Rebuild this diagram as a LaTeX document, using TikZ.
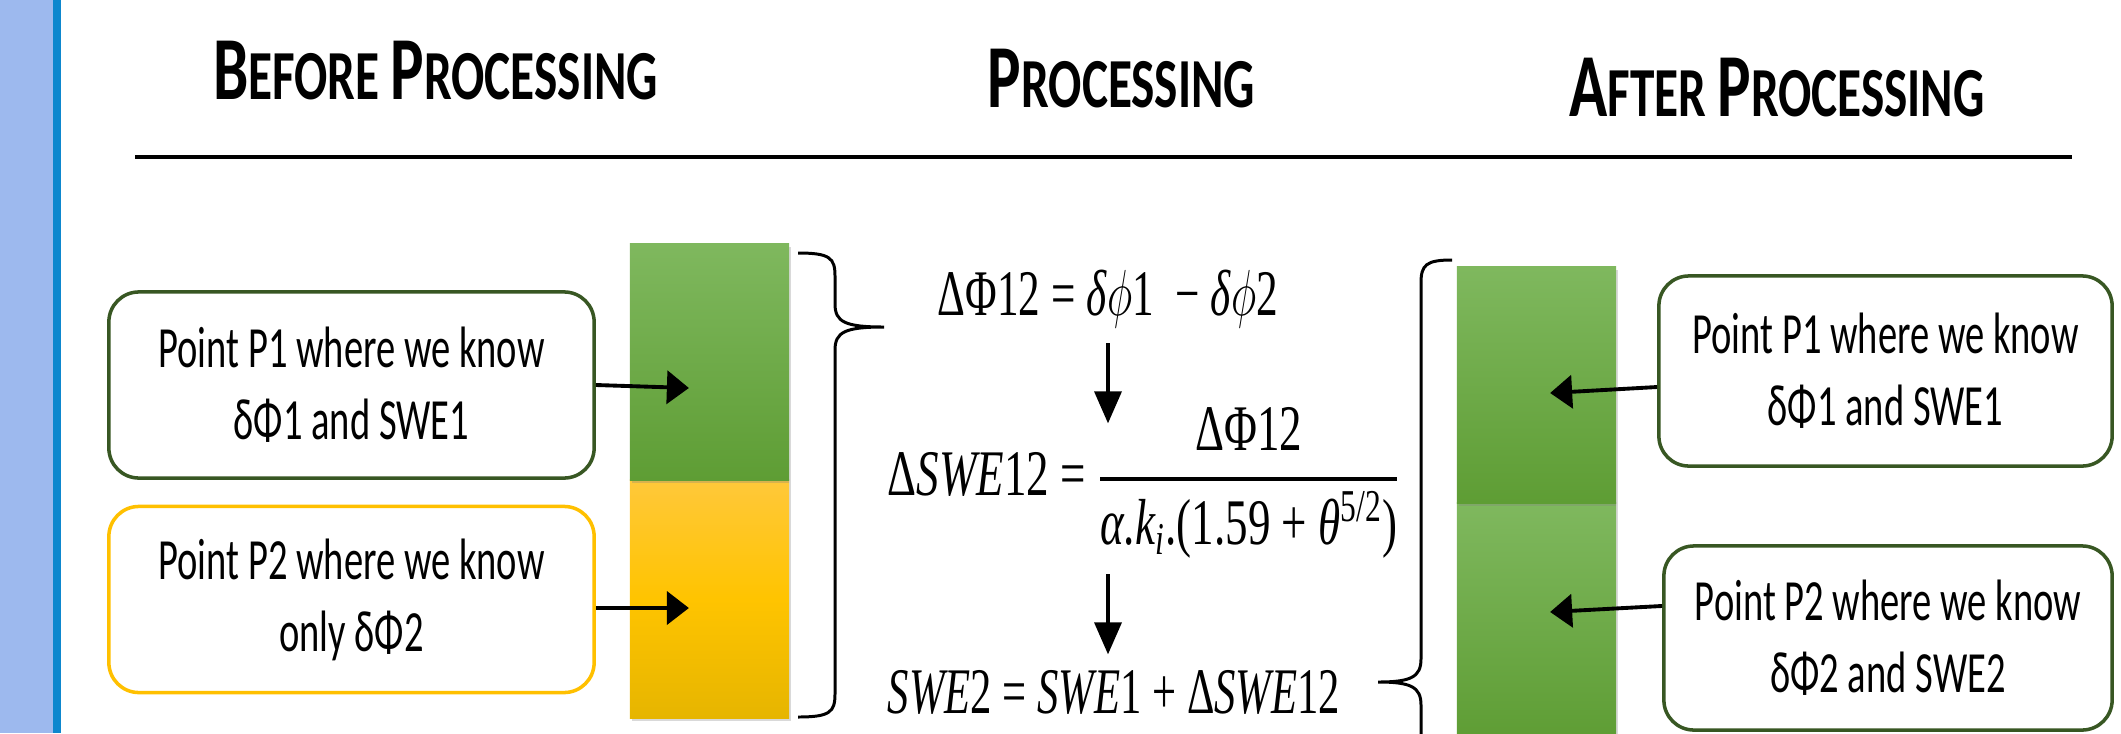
\RequirePackage{fix-cm}
\documentclass[tikz,border=0pt]{standalone}
\usepackage{amsmath}
\usepackage{fontspec}
\newfontfamily\bodyfont[FakeStretch=0.66]{Carlito}
\newfontfamily\headfont[FakeStretch=0.70]{Carlito}
\newfontfamily\eqfont{Liberation Serif}
\usetikzlibrary{arrows.meta, positioning, shadows}
\definecolor{boxgreen}{RGB}{56,87,35}
\definecolor{boxgold}{RGB}{255,192,0}
\definecolor{barlight}{RGB}{127,184,94}
\definecolor{bardark}{RGB}{94,157,52}
\definecolor{goldtop}{RGB}{255,200,58}
\definecolor{goldmid}{RGB}{255,196,0}
\definecolor{goldlow}{RGB}{230,181,0}
\definecolor{bandblue}{RGB}{157,185,238}
\definecolor{stripeblue}{RGB}{13,135,206}
\newcommand{\capword}[2]{{\fontsize{25.6}{30}\selectfont #1}#2}
\newcommand{\fitw}[2]{\resizebox{#1}{\height}{#2}}

\begin{document}
\begin{tikzpicture}[x=0.01cm, y=-0.01cm,
    heading/.style={anchor=base, inner sep=0pt, font=\headfont\bfseries\fontsize{20}{24}\selectfont},
    pointbox/.style={draw, line width=1pt, rounded corners=0.3cm, fill=white, align=center,
      minimum height=1.86cm, font=\bodyfont\fontsize{16.6}{20.5}\selectfont},
    greenbox/.style={pointbox, draw=boxgreen},
    goldbox/.style={pointbox, draw=boxgold},
    bar/.style={minimum width=1.59cm, inner sep=0pt,
      drop shadow={shadow xshift=0.02cm, shadow yshift=-0.03cm, opacity=0.3}},
    greenbar/.style={bar, top color=barlight, bottom color=bardark},
    goldbar/.style={bar, top color=goldtop, bottom color=goldlow, middle color=goldmid},
    eq/.style={anchor=base, inner sep=0pt, font=\eqfont\fontsize{18.5}{22}\selectfont},
    harr/.style={-{Triangle[length=0.22cm, width=0.33cm]}, line width=1.1pt},
    varr/.style={-{Triangle[length=0.32cm, width=0.27cm]}, line width=1pt},
    curly/.style={line width=0.85pt}
  ]
  \useasboundingbox (0,0) rectangle (2121,733);
  \clip (0,0) rectangle (2121,733);
  \fill[bandblue] (0,0) rectangle (53,733);
  \fill[stripeblue] (53,0) rectangle (61,733);

  \node[heading] (hbefore) at (435.5,99) {\capword{B}{EFORE} \capword{P}{ROCESSING}};
  \node[heading] (hproc) at (1121.5,107) {\capword{P}{ROCESSING}};
  \node[heading] (hafter) at (1777,116) {\capword{A}{FTER} \capword{P}{ROCESSING}};
  \draw[line width=1.1pt] (135,157) -- (2072,157);

  \node[greenbox, minimum width=4.85cm] (p1before) at (351.5,385) {Point P1 where we know\\δΦ1 and SWE1};
  \node[goldbox, minimum width=4.85cm] (p2before) at (351.5,599.5) {Point P2 where we know\\only δΦ2};
  \node[greenbox, minimum width=4.53cm, minimum height=1.9cm] (p1after) at (1885.5,371) {Point P1 where we know\\δΦ1 and SWE1};
  \node[greenbox, minimum width=4.48cm, minimum height=1.84cm] (p2after) at (1888,638) {Point P2 where we know\\δΦ2 and SWE2};

  \node[goldbar, minimum height=2.38cm] (beforelow) at (709.5,599) {};
  \node[greenbar, minimum height=2.36cm] (beforetop) at (709.5,362) {};
  \node[greenbar, minimum height=2.37cm] (afterlow) at (1536.5,621.5) {};
  \node[greenbar, minimum height=2.36cm] (aftertop) at (1536.5,385) {};

  \draw[harr] (p1before.east) -- ++(93,3);
  \draw[harr] ([yshift=-0.085cm]p2before.east) -- ++(93,0);
  \draw[harr] ([yshift=-0.16cm]p1after.west) -- ++(-107,6);
  \draw[harr] ([yshift=0.32cm]p2after.west) -- ++(-112,6);

  \draw[curly] (798,253) .. controls (830,253) and (835,258) .. (835,276) -- (835,304)
    .. controls (835,322) and (845,327) .. (884,327)
    .. controls (845,327) and (835,332) .. (835,350) -- (835,694)
    .. controls (835,712) and (830,717) .. (798,717);
  \draw[curly] (1452,260) .. controls (1426,260) and (1421,265) .. (1421,283) -- (1421,659)
    .. controls (1421,677) and (1411,682) .. (1378,682)
    .. controls (1411,682) and (1421,687) .. (1421,705) -- (1421,760);

  \node[eq] (eqdiff) at (1108,315) {\fitw{3.4cm}{ΔΦ12 = \textit{δ}$\phi$1\ \ − \textit{δ}$\phi$2}};
  \node[eq] (eqswe) at (1144,495) {\fitw{5.12cm}{Δ\textit{SWE}12 = $\genfrac{}{}{1pt}{0}{\text{ΔΦ12}}{\text{\textit{α}.\textit{k}$_{\text{\textit{i}}}$.(1.59 + \textit{θ}$^{\text{5/2}}$)}}$}};
  \node[eq] (eqsum) at (1114,713) {\fitw{4.52cm}{\textit{SWE}2 = \textit{SWE}1 + Δ\textit{SWE}12}};

  \draw[varr] (eqdiff.south) ++(0,15) -- ++(0,80);
  \draw[varr] (eqdiff.south |- eqswe.south) ++(0,15) -- ++(0,80);
\end{tikzpicture}
\end{document}
